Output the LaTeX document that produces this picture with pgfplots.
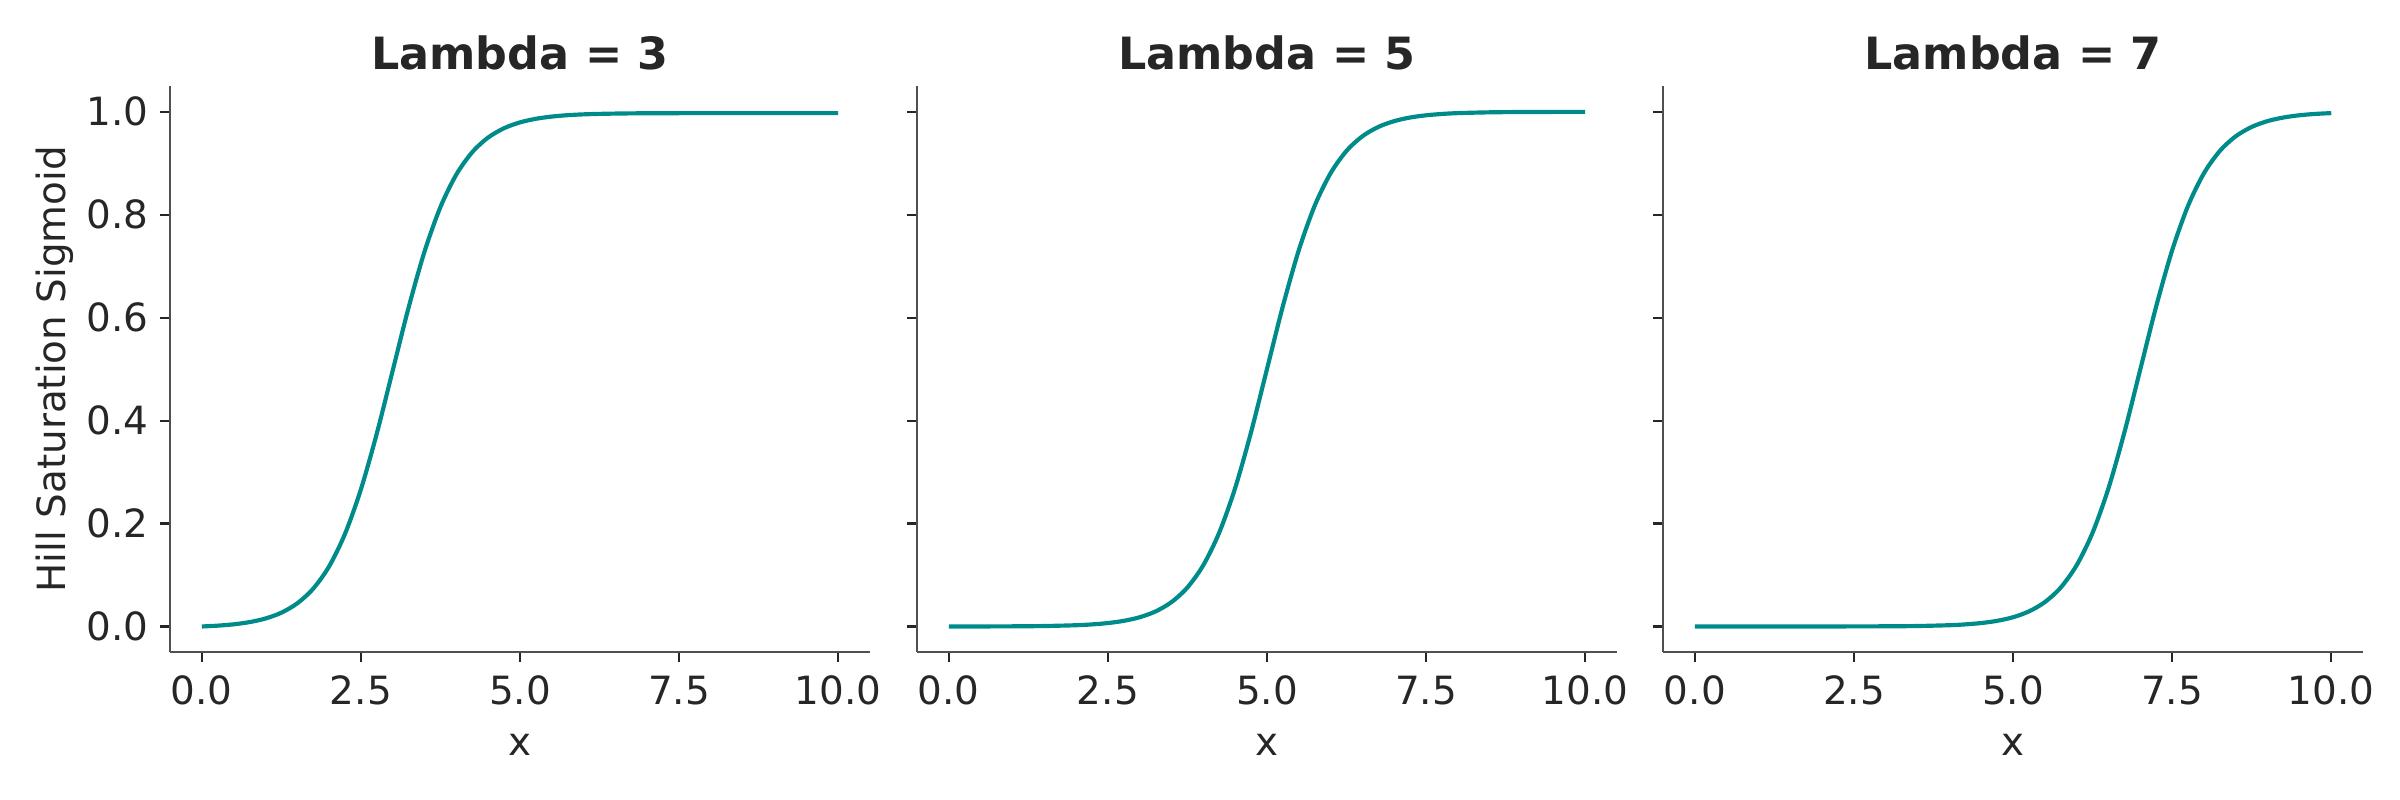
\documentclass[border=0pt]{standalone}
\usepackage{fontspec}
\setmainfont{DejaVu Sans}
\usepackage{pgfplots}
\pgfplotsset{compat=1.18}
\definecolor{txt}{HTML}{262626}
\definecolor{spinecol}{HTML}{505050}
\definecolor{curve}{HTML}{008B8B}

\pgfplotsset{panel/.style={
  scale only axis, width=252pt, height=203.8pt,
  xmin=-0.5, xmax=10.5, ymin=-0.05, ymax=1.05,
  axis lines=left,
  axis line style={-, draw=spinecol, line width=0.8pt},
  tick align=outside, major tick length=3.5pt,
  tick style={draw=txt, line width=0.8pt},
  xtick={0,2.5,5,7.5,10}, xticklabels={0.0,2.5,5.0,7.5,10.0},
  ytick={0,0.2,0.4,0.6,0.8,1},
  /pgf/number format/assume math mode=true,
  ticklabel style={font=\fontsize{14}{16.8}\selectfont, text=txt, inner sep=0pt},
  xticklabel style={anchor=base, yshift=-15.2pt},
  yticklabel style={anchor=east, xshift=-4pt},
  every axis x label/.style={at={(axis description cs:0.5,-0.1816)}, anchor=base,
     font=\fontsize{14}{16.8}\selectfont, text=txt},
  every axis y label/.style={at={(axis description cs:-0.1488,0.5)}, rotate=90, anchor=base,
     font=\fontsize{14}{16.8}\selectfont, text=txt},
  every axis title/.style={at={(axis description cs:0.5,1.02944)}, anchor=base,
     font=\fontsize{16}{19.2}\selectfont\bfseries, text=txt},
  xlabel={x},
  clip=false,
}}

\begin{document}
\begin{tikzpicture}
\useasboundingbox (0,0) rectangle (864pt,288pt);

\begin{axis}[panel, at={(61.2pt,53.2pt)}, anchor=south west,
  title={Lambda = 3}, ylabel={Hill Saturation Sigmoid},
  yticklabels={0.0,0.2,0.4,0.6,0.8,1.0}]
\addplot[curve, line width=1.5pt, smooth] coordinates {
(0,0) (0.25,0.0016) (0.5,0.0042) (0.75,0.0085) (1,0.0155) (1.25,0.0268)
(1.5,0.0450) (1.75,0.0734) (2,0.1167) (2.25,0.1800) (2.5,0.2665) (2.75,0.3751)
(3,0.4975) (3.25,0.6200) (3.5,0.7286) (3.75,0.8151) (4,0.8783) (4.25,0.9217)
(4.5,0.9501) (4.75,0.9682) (5,0.9795) (5.25,0.9865) (5.5,0.9908) (5.75,0.9935)
(6,0.9951) (6.25,0.9960) (6.5,0.9966) (6.75,0.9970) (7,0.9972) (7.25,0.9973)
(7.5,0.9974) (7.75,0.99745) (8,0.99748) (8.5,0.99751) (9,0.99752) (10,0.99753)
};
\end{axis}

\begin{axis}[panel, at={(330.1pt,53.2pt)}, anchor=south west,
  title={Lambda = 5}, yticklabels={}]
\addplot[curve, line width=1.5pt, smooth] coordinates {
(0,0) (0.5,0.00008) (1,0.00029) (1.5,0.00087) (2,0.00243) (2.25,0.00402)
(2.5,0.00665) (2.75,0.01094) (3,0.01794) (3.25,0.02927) (3.5,0.04738) (3.75,0.07581)
(4,0.11916) (4.25,0.18238) (4.5,0.26890) (4.75,0.37750) (5,0.49995) (5.25,0.62241)
(5.5,0.73101) (5.75,0.81753) (6,0.88075) (6.25,0.92410) (6.5,0.95253) (6.75,0.97064)
(7,0.98197) (7.25,0.98897) (7.5,0.99326) (7.75,0.99588) (8,0.99748) (8.5,0.99904)
(9,0.99962) (9.5,0.99983) (10,0.99991)
};
\end{axis}

\begin{axis}[panel, at={(598.7pt,53.2pt)}, anchor=south west,
  title={Lambda = 7}, yticklabels={}]
\addplot[curve, line width=1.5pt, smooth] coordinates {
(0,0) (1,0.000006) (2,0.000045) (3,0.00034) (3.5,0.00091) (4,0.00247)
(4.25,0.00407) (4.5,0.00669) (4.75,0.01099) (5,0.01799) (5.25,0.02931) (5.5,0.04743)
(5.75,0.07586) (6,0.11920) (6.25,0.18243) (6.5,0.26894) (6.75,0.37754) (7,0.5)
(7.25,0.62246) (7.5,0.73106) (7.75,0.81757) (8,0.88080) (8.25,0.92414) (8.5,0.95257)
(8.75,0.97069) (9,0.98201) (9.25,0.98901) (9.5,0.99331) (9.75,0.99593) (10,0.99753)
};
\end{axis}
\end{tikzpicture}
\end{document}
